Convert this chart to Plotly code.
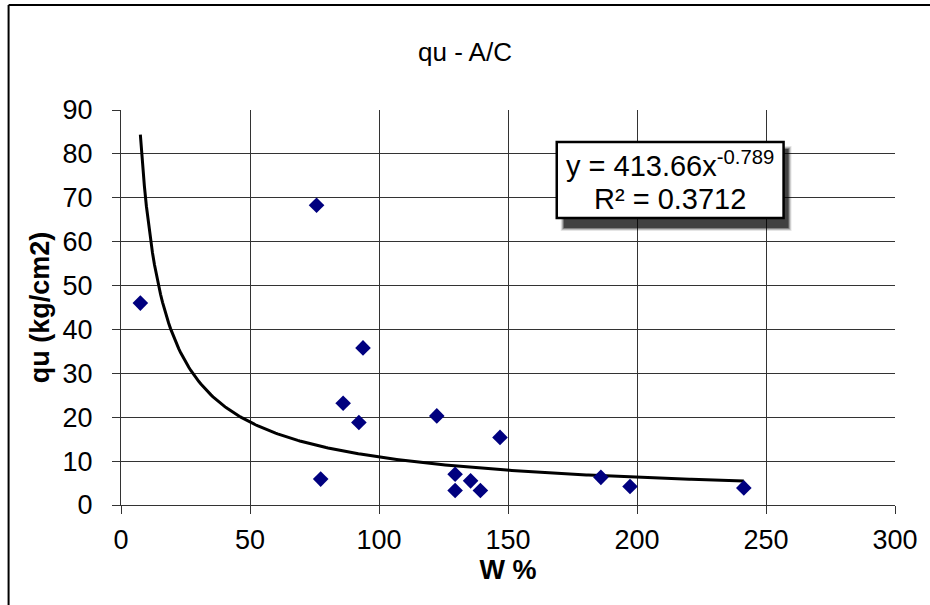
import numpy as np
import plotly.graph_objects as go

# Data
w_pct = [7.5, 75.8, 77.4, 86.1, 92.2, 93.8, 122.4, 129.5, 129.5, 135.5, 139.3, 146.9, 186.0, 197.3, 241.4]
qu = [46.0, 68.3, 5.9, 23.2, 18.8, 35.8, 20.3, 7.0, 3.3, 5.5, 3.3, 15.4, 6.3, 4.2, 3.9]

# Power trendline from the displayed equation
coef_a = 413.66
coef_b = -0.789
r2 = 0.3712

x_ticks = [0, 50, 100, 150, 200, 250, 300]
y_ticks = [0, 10, 20, 30, 40, 50, 60, 70, 80, 90]

xt = np.linspace(min(w_pct), max(w_pct), 300)
yt = coef_a * xt ** coef_b

FONT = "Liberation Sans, Arial, sans-serif"
GRID = "#333333"

# plot area in pixels
PL, PR, PT, PB = 121, 899, 110, 505
W, H = 930, 605


def px_x(p):
    return (p - PL) / (PR - PL)


def px_y(p):
    return (PB - p) / (PB - PT)


fig = go.Figure()
fig.add_trace(go.Scatter(x=xt, y=yt, mode="lines",
                         line=dict(color="black", width=3), hoverinfo="skip"))
fig.add_trace(go.Scatter(x=w_pct, y=qu, mode="markers",
                         marker=dict(symbol="diamond", size=12, color="#00007f",
                                     line=dict(width=0))))

bx0, bx1, by0, by1 = 559, 787, 142, 218
shapes = []
for i, op in enumerate([0.10, 0.18, 0.3, 0.5]):
    d = 4 - i
    shapes.append(dict(type="rect", xref="paper", yref="paper",
                       x0=px_x(bx0 + 8 - d), x1=px_x(bx1 + 4 + d),
                       y0=px_y(by1 + 9 + d), y1=px_y(by0 + 8 - d),
                       fillcolor=f"rgba(0,0,0,{op})", line=dict(width=0), layer="above"))
shapes.append(dict(type="rect", xref="paper", yref="paper",
                   x0=px_x(bx0), x1=px_x(bx1), y0=px_y(by1), y1=px_y(by0),
                   fillcolor="white", line=dict(color="black", width=2.5), layer="above"))
# Outer chart border (left and top visible)
shapes.append(dict(type="line", xref="paper", yref="paper",
                   x0=px_x(8), x1=px_x(8), y0=px_y(605), y1=px_y(5),
                   line=dict(color="black", width=2)))
shapes.append(dict(type="line", xref="paper", yref="paper",
                   x0=px_x(8), x1=px_x(935), y0=px_y(5), y1=px_y(5),
                   line=dict(color="black", width=2)))

fig.update_layout(
    width=W, height=H,
    margin=dict(l=PL, r=W - PR, t=PT, b=H - PB),
    paper_bgcolor="white", plot_bgcolor="white",
    showlegend=False,
    font=dict(family=FONT, color="black"),
    title=dict(text="qu - A/C", x=0.5, xanchor="center", y=1 - 52 / H, yanchor="middle",
               font=dict(size=26, family=FONT, color="black")),
    xaxis=dict(range=[0, 300], tickvals=x_ticks, showgrid=True, gridcolor=GRID, gridwidth=1.3,
               zeroline=False, showline=True, linecolor=GRID, linewidth=1.3,
               ticks="outside", ticklen=8, tickcolor=GRID, tickwidth=1.3,
               ticklabelstandoff=2,
               tickfont=dict(size=27, family=FONT), fixedrange=True,
               title=dict(text="<b>W %</b>", font=dict(size=27, family=FONT), standoff=2)),
    yaxis=dict(range=[0, 90], tickvals=y_ticks, showgrid=True, gridcolor=GRID, gridwidth=1.3,
               zeroline=False, showline=True, linecolor=GRID, linewidth=1.3,
               ticks="outside", ticklen=8, tickcolor=GRID, tickwidth=1.3,
               ticklabelstandoff=14,
               tickfont=dict(size=27, family=FONT), fixedrange=True,
               title=dict(text="<b>qu (kg/cm2)</b>", font=dict(size=27, family=FONT), standoff=4)),
    shapes=shapes,
    annotations=[
        dict(xref="paper", yref="paper", x=px_x((bx0 + bx1) / 2), y=px_y(164),
             text=f"y = {coef_a}x<sup>{coef_b}</sup>", showarrow=False,
             font=dict(size=29, family=FONT, color="black"), xanchor="center", yanchor="middle"),
        dict(xref="paper", yref="paper", x=px_x((bx0 + bx1) / 2), y=px_y(199),
             text=f"R² = {r2}", showarrow=False,
             font=dict(size=29, family=FONT, color="black"), xanchor="center", yanchor="middle"),
    ],
)

fig.write_html("out.html", config={"displayModeBar": False},
               post_script="document.body.style.margin='0';")
